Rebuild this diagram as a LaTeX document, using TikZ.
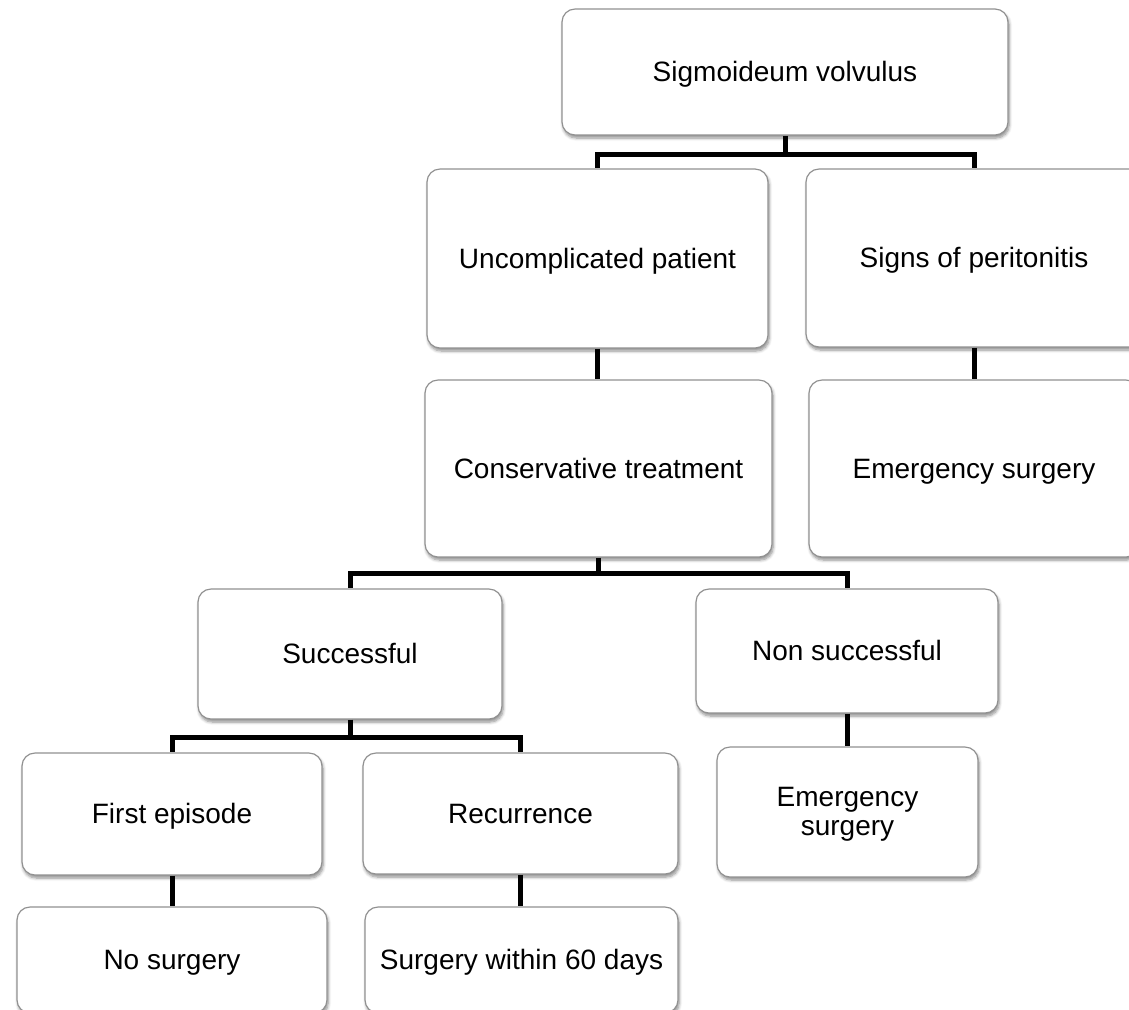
\documentclass[tikz,border=0pt]{standalone}
\usepackage{fontspec}
\setmainfont{Liberation Sans}
\usetikzlibrary{shadows.blur}
\definecolor{boxgray}{RGB}{145,145,145}
\begin{document}
\begin{tikzpicture}[x=0.5pt,y=-0.5pt,
  box/.style={draw=boxgray, line width=0.6pt, fill=white, rounded corners=6.5pt,
    inner sep=0pt, align=center, font=\fontsize{14}{14.5}\selectfont,
    blur shadow={shadow xshift=0.6pt, shadow yshift=-1.5pt, shadow blur radius=1.5pt,
      shadow blur steps=6, shadow opacity=45}},
  onebox/.style={box, text height=12.5pt, text depth=2.9pt},
  conn/.style={line width=2.5pt, black}]
\useasboundingbox (0,0) rectangle (1129,1009);
\clip (0,0) rectangle (1129,1009);

\node[onebox, minimum width=223pt, minimum height=63pt] (top) at (785,72) {Sigmoideum volvulus};
\node[onebox, minimum width=170.5pt, minimum height=89.5pt] (unc) at (597.5,258.5) {Uncomplicated patient};
\node[onebox, minimum width=168pt, minimum height=89pt] (signs) at (974,258) {Signs of peritonitis};
\node[onebox, minimum width=173.5pt, minimum height=88.5pt] (cons) at (598.5,468.5) {Conservative treatment};
\node[onebox, minimum width=165pt, minimum height=88.5pt] (emerg1) at (974,468.5) {Emergency surgery};
\node[onebox, minimum width=152pt, minimum height=65pt] (succ) at (350,654) {Successful};
\node[onebox, minimum width=151pt, minimum height=62pt] (nons) at (847,651) {Non successful};
\node[onebox, minimum width=150pt, minimum height=61pt] (first) at (172,814) {First episode};
\node[onebox, minimum width=157.5pt, minimum height=60.5pt] (recur) at (520.5,813.5) {Recurrence};
\node[box, minimum width=130.5pt, minimum height=65pt] (emerg2) at (847.5,812)
  {\raisebox{-1.5pt}[\height][\depth]{\begin{tabular}{@{}c@{}}Emergency\\surgery\end{tabular}}};
\node[onebox, minimum width=155pt, minimum height=53pt] (nosurg) at (172,960) {No surgery};
\node[onebox, minimum width=156.5pt, minimum height=53pt] (surg60) at (521.5,960) {Surgery within 60 days};

\coordinate (b1) at (785,154);
\coordinate (b2) at (598.5,573);
\coordinate (b3) at (350,737);

\draw[conn] (top.south) -- (b1) -| (unc.north);
\draw[conn] (b1) -| (signs.north);
\draw[conn] (unc.south) -- (unc.south |- cons.north);
\draw[conn] (signs.south) -- (emerg1.north);
\draw[conn] (cons.south) -- (b2) -| (succ.north);
\draw[conn] (b2) -| (nons.north);
\draw[conn] (succ.south) -- (b3) -| (first.north);
\draw[conn] (b3) -| (recur.north);
\draw[conn] (nons.south) -- (nons.south |- emerg2.north);
\draw[conn] (first.south) -- (nosurg.north);
\draw[conn] (recur.south) -- (recur.south |- surg60.north);
\end{tikzpicture}
\end{document}
